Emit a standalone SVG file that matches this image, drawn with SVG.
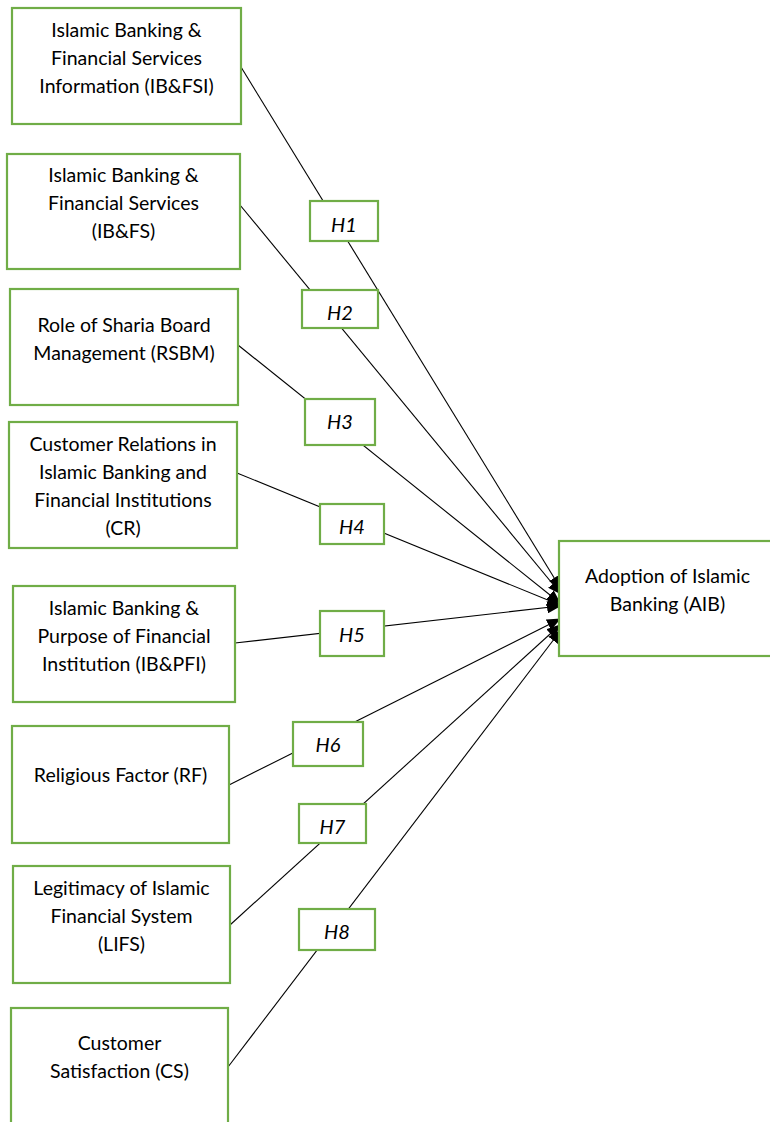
<svg xmlns="http://www.w3.org/2000/svg" width="770" height="1122" viewBox="0 0 770 1122">
  <style>
    .box { fill: #ffffff; stroke: #70AD47; stroke-width: 2.2; }
    .lbl { font-family: Lato, "Liberation Sans", sans-serif; font-size: 19.5px; fill: #000000; text-anchor: middle; }
    .hyp { font-family: Lato, "Liberation Sans", sans-serif; font-size: 20px; font-style: italic; fill: #000000; text-anchor: middle; }
    .edge { stroke: #000000; stroke-width: 1.1; fill: none; marker-end: url(#arrow); }
  </style>
  <defs>
    <marker id="arrow" markerUnits="userSpaceOnUse" markerWidth="14" markerHeight="12" refX="13" refY="6" orient="auto">
      <path d="M0,0 L14,6 L0,12 Z" fill="#000000"/>
    </marker>
  </defs>
  <rect width="770" height="1122" fill="#ffffff"/>

  <!-- connectors: each construct to the outcome, passing under its hypothesis label -->
  <g id="connectors">
    <line class="edge" x1="241" y1="67" x2="561" y2="589"/>
    <line class="edge" x1="240" y1="205" x2="561" y2="594"/>
    <line class="edge" x1="238" y1="345" x2="560" y2="603"/>
    <line class="edge" x1="237" y1="473" x2="560" y2="605"/>
    <line class="edge" x1="235" y1="643" x2="560" y2="606"/>
    <line class="edge" x1="229" y1="785" x2="560" y2="619"/>
    <line class="edge" x1="230" y1="925" x2="560" y2="625"/>
    <line class="edge" x1="228" y1="1067" x2="561" y2="630"/>
  </g>

  <!-- constructs -->
  <g id="ibfsi">
    <rect class="box" x="12" y="8" width="229" height="116"/>
    <text class="lbl" x="126.5" y="37">Islamic Banking &amp;</text>
    <text class="lbl" x="126.5" y="65">Financial Services</text>
    <text class="lbl" x="126.5" y="93">Information (IB&amp;FSI)</text>
  </g>
  <g id="ibfs">
    <rect class="box" x="7" y="154" width="233" height="115"/>
    <text class="lbl" x="123.5" y="182">Islamic Banking &amp;</text>
    <text class="lbl" x="123.5" y="210">Financial Services</text>
    <text class="lbl" x="123.5" y="238">(IB&amp;FS)</text>
  </g>
  <g id="rsbm">
    <rect class="box" x="10" y="289" width="228" height="116"/>
    <text class="lbl" x="124" y="332">Role of Sharia Board</text>
    <text class="lbl" x="124" y="360">Management (RSBM)</text>
  </g>
  <g id="cr">
    <rect class="box" x="9" y="422" width="228" height="126"/>
    <text class="lbl" x="123" y="451">Customer Relations in</text>
    <text class="lbl" x="123" y="479">Islamic Banking and</text>
    <text class="lbl" x="123" y="507">Financial Institutions</text>
    <text class="lbl" x="123" y="535">(CR)</text>
  </g>
  <g id="ibpfi">
    <rect class="box" x="13" y="586" width="222" height="116"/>
    <text class="lbl" x="124" y="615">Islamic Banking &amp;</text>
    <text class="lbl" x="124" y="643">Purpose of Financial</text>
    <text class="lbl" x="124" y="671">Institution (IB&amp;PFI)</text>
  </g>
  <g id="rf">
    <rect class="box" x="12" y="726" width="217" height="117"/>
    <text class="lbl" x="120.5" y="782">Religious Factor (RF)</text>
  </g>
  <g id="lifs">
    <rect class="box" x="13" y="866" width="217" height="117"/>
    <text class="lbl" x="121.5" y="895">Legitimacy of Islamic</text>
    <text class="lbl" x="121.5" y="923">Financial System</text>
    <text class="lbl" x="121.5" y="951">(LIFS)</text>
  </g>
  <g id="cs">
    <rect class="box" x="11" y="1008" width="217" height="130"/>
    <text class="lbl" x="119.5" y="1050">Customer</text>
    <text class="lbl" x="119.5" y="1078">Satisfaction (CS)</text>
  </g>

  <!-- outcome -->
  <g id="aib">
    <rect class="box" x="559" y="541" width="217" height="115"/>
    <text class="lbl" x="667.5" y="583">Adoption of Islamic</text>
    <text class="lbl" x="667.5" y="611">Banking (AIB)</text>
  </g>

  <!-- hypothesis labels -->
  <g id="h1">
    <rect class="box" x="310" y="201" width="68" height="40"/>
    <text class="hyp" x="344" y="232">H1</text>
  </g>
  <g id="h2">
    <rect class="box" x="302" y="290" width="76" height="38"/>
    <text class="hyp" x="340" y="320">H2</text>
  </g>
  <g id="h3">
    <rect class="box" x="305" y="399" width="70" height="46"/>
    <text class="hyp" x="340" y="429">H3</text>
  </g>
  <g id="h4">
    <rect class="box" x="320" y="504" width="64" height="40"/>
    <text class="hyp" x="352" y="534">H4</text>
  </g>
  <g id="h5">
    <rect class="box" x="320" y="611" width="64" height="45"/>
    <text class="hyp" x="352" y="642">H5</text>
  </g>
  <g id="h6">
    <rect class="box" x="293" y="722" width="70" height="44"/>
    <text class="hyp" x="328" y="752">H6</text>
  </g>
  <g id="h7">
    <rect class="box" x="299" y="804" width="67" height="39"/>
    <text class="hyp" x="332.5" y="834">H7</text>
  </g>
  <g id="h8">
    <rect class="box" x="299" y="909" width="76" height="41"/>
    <text class="hyp" x="337" y="939">H8</text>
  </g>
</svg>
